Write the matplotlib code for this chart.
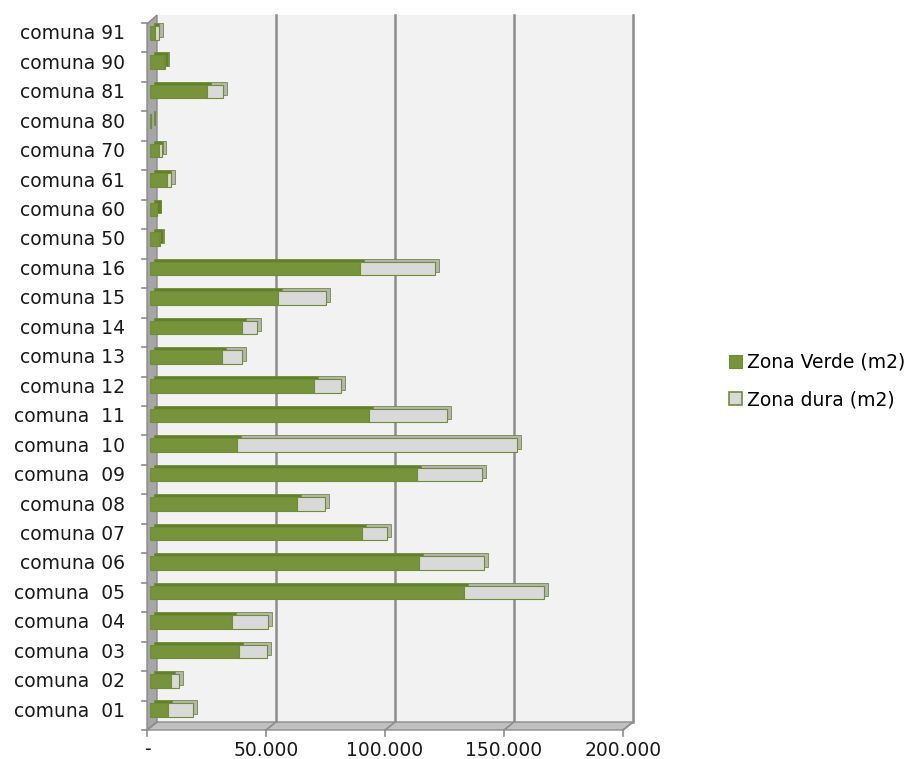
import matplotlib
matplotlib.use("Agg")
import matplotlib.pyplot as plt
import matplotlib.transforms as mtransforms
from matplotlib.patches import Polygon, Patch
from matplotlib.lines import Line2D
import numpy as np

# comunas, bottom row first
comunas = ["comuna  01", "comuna  02", "comuna  03", "comuna  04", "comuna  05",
           "comuna 06", "comuna 07", "comuna 08", "comuna  09", "comuna  10",
           "comuna  11", "comuna 12", "comuna 13", "comuna 14", "comuna 15",
           "comuna 16", "comuna 50", "comuna 60", "comuna 61", "comuna 70",
           "comuna 80", "comuna 81", "comuna 90", "comuna 91"]

zona_verde = [7600, 8700, 37400, 34600, 131900, 112900, 88900, 61600, 112300, 36400,
              92200, 68900, 30100, 38500, 53900, 88200, 3900, 2800, 7000, 3900,
              300, 23800, 5900, 2100]
zona_dura = [10300, 3400, 11900, 15100, 33800, 27500, 10800, 12100, 27300, 117900,
             32400, 11200, 8700, 6300, 19900, 31500, 300, 300, 1700, 1100,
             200, 6700, 300, 1800]

series_names = ["Zona Verde (m2)", "Zona dura (m2)"]
x_ticks = [0, 50000, 100000, 150000, 200000]
x_ticklabels = ["-", "50.000", "100.000", "150.000", "200.000"]

green = "#77933c"
green_depth = "#62802c"
green_edge = "#6f8d34"
gray = "#d9d9d9"
gray_depth = "#b4b4b4"

W, H = 920, 759
wall_l, wall_r, wall_t, wall_b = 157, 633, 15, 722
depth_x, depth_y = 10, 8  # pixel offset of the front plane

fig = plt.figure(figsize=(W / 100, H / 100), dpi=100)
ax = fig.add_axes([wall_l / W, 1 - wall_b / H, (wall_r - wall_l) / W, (wall_b - wall_t) / H])
ax.set_xlim(0, 200000)
ax.set_ylim(-0.5, len(comunas) - 0.5)
ax.set_facecolor("#f2f2f2")
for s in ax.spines.values():
    s.set_visible(False)
ax.set_xticks([])
ax.set_yticks([])

# image pixel coords (y down) -> figure
px = mtransforms.Affine2D().scale(1 / W, -1 / H).translate(0, 1) + fig.transFigure


def shift(dx, dy):
    # dx right, dy down, in pixels
    return mtransforms.ScaledTranslation(dx / 100, -dy / 100, fig.dpi_scale_trans)


# back wall gridlines
for v in x_ticks[1:]:
    ax.axvline(v, color="#8c8c8c", lw=1.8, zorder=1, clip_on=False)

# left side wall and floor
ax.add_patch(Polygon([(wall_l - depth_x, wall_t + 9), (wall_l, wall_t), (wall_l, wall_b),
                      (wall_l - depth_x, wall_b + depth_y)], closed=True, transform=px,
                     facecolor="#a6a6a6", edgecolor="#8a8a8a", lw=1, clip_on=False, zorder=2))
ax.add_patch(Polygon([(wall_l, wall_b), (wall_r, wall_b), (wall_r - depth_x, wall_b + depth_y),
                      (wall_l - depth_x, wall_b + depth_y)], closed=True, transform=px,
                     facecolor="#c0c0c0", edgecolor="#8c8c8c", lw=1, clip_on=False, zorder=2))

fig.canvas.draw()
to_disp = ax.transData.transform

# floor grid diagonals, front ticks and tick labels
for v, lab in zip(x_ticks, x_ticklabels):
    xi = to_disp((v, 0))[0]
    ax.add_line(Line2D([xi, xi - depth_x], [wall_b, wall_b + depth_y], transform=px,
                       color="#8c8c8c", lw=1.2, clip_on=False, zorder=2))
    ax.add_line(Line2D([xi - depth_x, xi - depth_x], [wall_b + depth_y, wall_b + depth_y + 6],
                       transform=px, color="#8c8c8c", lw=1.2, clip_on=False, zorder=2))
    ax.text(xi - depth_x, wall_b + depth_y + 20, lab, transform=px, ha="center", va="center",
            fontsize=13.5, color="#1a1a1a")

# front axis ticks between rows
for b in np.arange(-0.5, len(comunas), 1.0):
    yd = H - to_disp((0, b))[1] + depth_y
    ax.add_line(Line2D([wall_l - depth_x - 5, wall_l - depth_x], [yd, yd], transform=px,
                       color="#8c8c8c", lw=1.2, clip_on=False, zorder=2))

# category labels
lab_tr = mtransforms.blended_transform_factory(ax.transAxes, ax.transData) + shift(-32, 4)
y = np.arange(len(comunas))
for yi, name in zip(y, comunas):
    ax.text(0, yi, name, transform=lab_tr, ha="right", va="center", fontsize=13.5, color="#1a1a1a")

# pseudo 3D bars: depth faces first, then front faces
h = 0.46
back = ax.transData + shift(-3, 0)
front = ax.transData + shift(-7, 3)
verde = np.array(zona_verde)
dura = np.array(zona_dura)
ax.barh(y, verde, height=h, color=green_depth, edgecolor=green_edge, lw=0.6,
        transform=back, clip_on=False, zorder=3)
ax.barh(y, dura, left=verde, height=h, color=gray_depth, edgecolor=green_edge, lw=0.6,
        transform=back, clip_on=False, zorder=3)
ax.barh(y, verde, height=h, color=green, edgecolor=green_edge, lw=0.8,
        transform=front, clip_on=False, zorder=4)
ax.barh(y, dura, left=verde, height=h, color=gray, edgecolor=green_edge, lw=0.8,
        transform=front, clip_on=False, zorder=4)

handles = [Patch(facecolor=green, edgecolor=green_edge, lw=0.8),
           Patch(facecolor=gray, edgecolor=green_edge, lw=1.2)]
fig.legend(handles, series_names, loc="center left", bbox_to_anchor=(729 / W, 1 - 381 / H),
           frameon=False, fontsize=13.5, handlelength=0.7, handleheight=0.7,
           handletextpad=0.25, labelspacing=1.0, borderpad=0, borderaxespad=0)

fig.savefig("out.png", dpi=100)
